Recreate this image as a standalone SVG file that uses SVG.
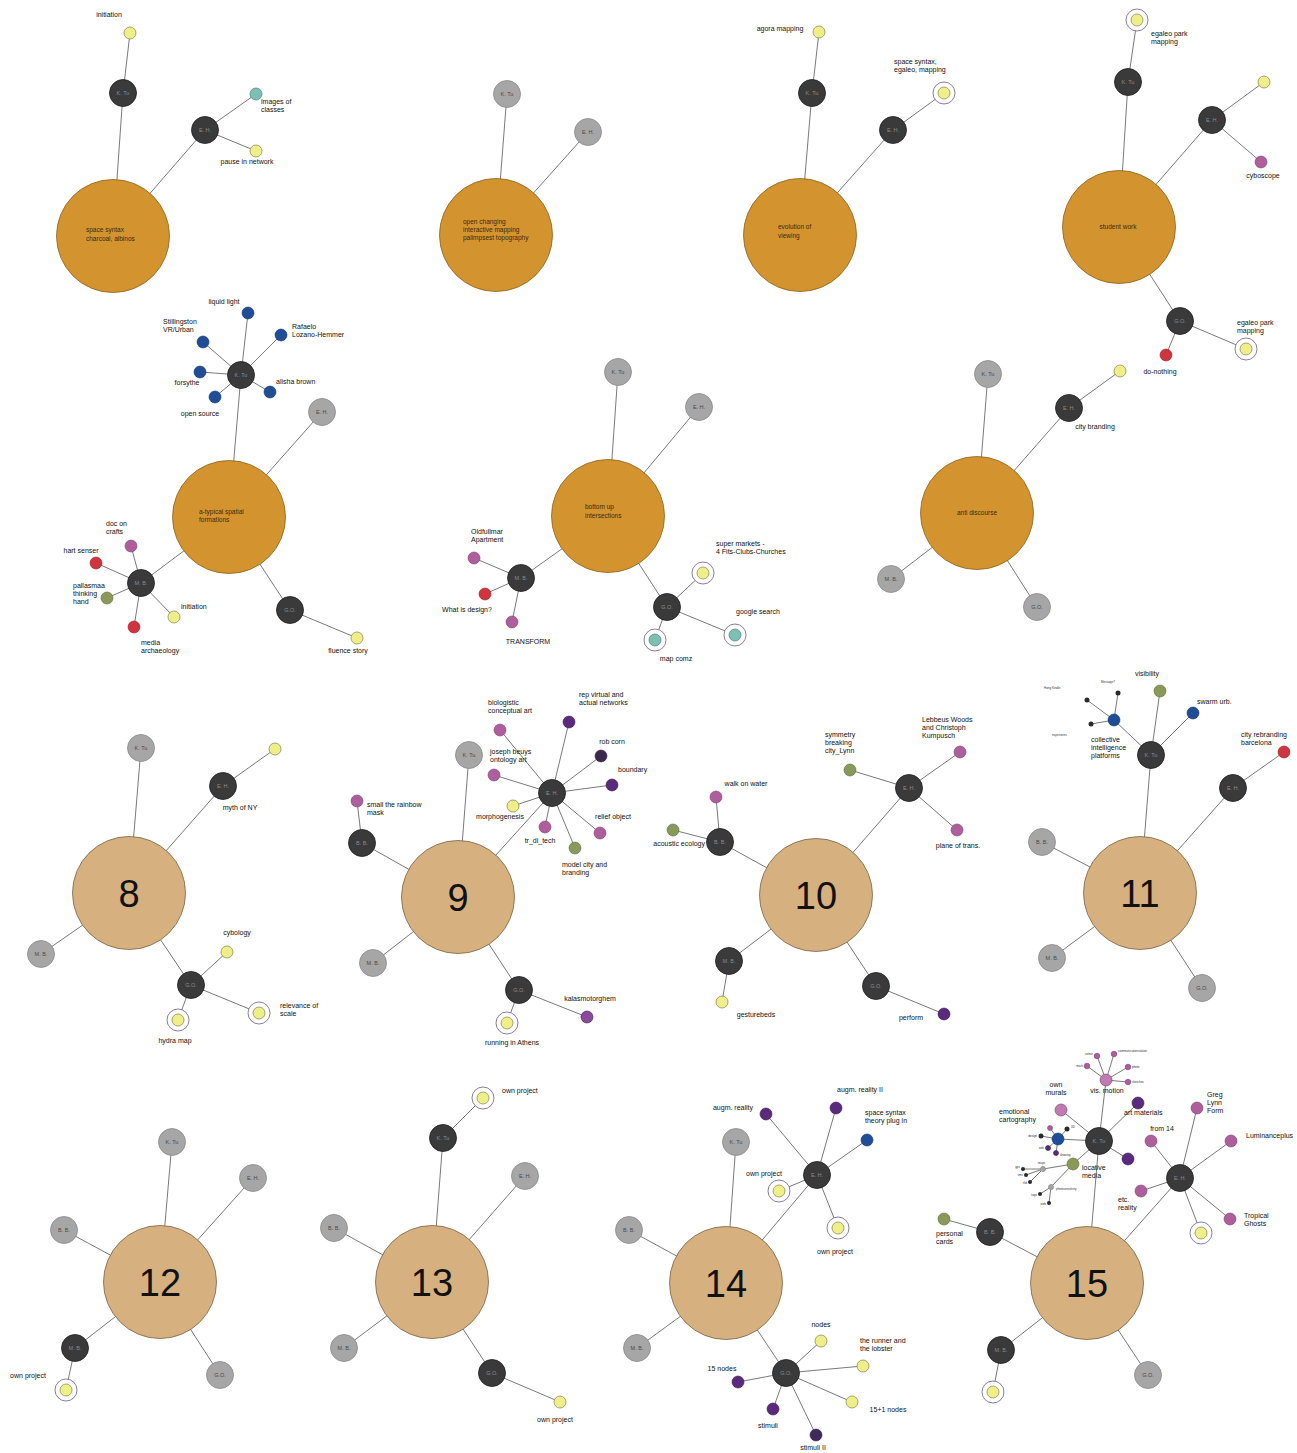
<svg xmlns="http://www.w3.org/2000/svg" width="1297" height="1453" viewBox="0 0 1297 1453">
<style>
text{font-family:"Liberation Sans",Arial,Helvetica,sans-serif}
#connectors line{stroke:#7a7a7a;stroke-width:1}
.big{fill:#D39430;stroke:#8C6420;stroke-width:.8}
.tan{fill:#D6B17F;stroke:#7a6548;stroke-width:.8}
.dk{fill:#3a3a3a;stroke:#1e1e1e;stroke-width:.8}
.gr{fill:#a6a6a6;stroke:#8a8a8a;stroke-width:.8}
.y{fill:#EFEF8A;stroke:#8f8f5a;stroke-width:.8}
.ring{fill:#fff;stroke:#6d6080;stroke-width:.8}
.tl{fill:#7BC0B2;stroke:#5a8a80;stroke-width:.8}
.pk{fill:#AE5E9C;stroke:#7a4070;stroke-width:.6}
.pu{fill:#5A2A7C;stroke:#3a1a50;stroke-width:.6}
.bl{fill:#1F4D98;stroke:#133366;stroke-width:.6}
.rd{fill:#D0343E;stroke:#902028;stroke-width:.6}
.ol{fill:#8A985A;stroke:#5e6a3a;stroke-width:.6}
.tn{fill:#2a2a2a}
.l{font-size:7px;fill:#111}
.lc{font-size:7px;fill:#111;text-anchor:middle}
.le{font-size:7px;fill:#111;text-anchor:end}
.nt{font-size:5.5px;fill:#8a8a8a;text-anchor:middle}
.gt{font-size:5.5px;fill:#4a4a4a;text-anchor:middle}
.bt{font-size:6.5px;fill:#3a2a10}
.btc{font-size:6.5px;fill:#3a2a10;text-anchor:middle}
.num{font-size:38px;fill:#111;text-anchor:middle}
.t{font-size:3px;fill:#333}
.te{font-size:3px;fill:#333;text-anchor:end}
</style>
<rect width="1297" height="1453" fill="#fff"/>
<g id="connectors">
<line x1="113" y1="236" x2="123" y2="93"/><line x1="123" y1="93" x2="130" y2="33"/><line x1="113" y1="236" x2="205" y2="130"/><line x1="205" y1="130" x2="256" y2="94"/><line x1="205" y1="130" x2="256" y2="151"/>
<line x1="496" y1="235" x2="507" y2="94"/><line x1="496" y1="235" x2="588" y2="132"/>
<line x1="800" y1="235" x2="812" y2="93"/><line x1="812" y1="93" x2="819" y2="32"/><line x1="800" y1="235" x2="893" y2="130"/><line x1="893" y1="130" x2="944" y2="93"/>
<line x1="1119" y1="227" x2="1128" y2="82"/><line x1="1128" y1="82" x2="1137" y2="20"/><line x1="1119" y1="227" x2="1212" y2="120"/><line x1="1212" y1="120" x2="1264" y2="82"/><line x1="1212" y1="120" x2="1261" y2="162"/><line x1="1119" y1="227" x2="1180" y2="321"/><line x1="1180" y1="321" x2="1166" y2="355"/><line x1="1180" y1="321" x2="1246" y2="349"/>
<line x1="229" y1="517" x2="241" y2="375"/><line x1="241" y1="375" x2="248" y2="313"/><line x1="241" y1="375" x2="203" y2="342"/><line x1="241" y1="375" x2="281" y2="335"/><line x1="241" y1="375" x2="200" y2="372"/><line x1="241" y1="375" x2="215" y2="397"/><line x1="241" y1="375" x2="270" y2="392"/><line x1="229" y1="517" x2="322" y2="412"/><line x1="229" y1="517" x2="141" y2="583"/><line x1="141" y1="583" x2="131" y2="546"/><line x1="141" y1="583" x2="96" y2="563"/><line x1="141" y1="583" x2="107" y2="598"/><line x1="141" y1="583" x2="174" y2="617"/><line x1="141" y1="583" x2="134" y2="627"/><line x1="229" y1="517" x2="290" y2="610"/><line x1="290" y1="610" x2="357" y2="638"/>
<line x1="608" y1="516" x2="618" y2="372"/><line x1="608" y1="516" x2="699" y2="407"/><line x1="608" y1="516" x2="521" y2="578"/><line x1="521" y1="578" x2="474" y2="558"/><line x1="521" y1="578" x2="485" y2="594"/><line x1="521" y1="578" x2="512" y2="622"/><line x1="608" y1="516" x2="667" y2="607"/><line x1="667" y1="607" x2="703" y2="573"/><line x1="667" y1="607" x2="735" y2="635"/><line x1="667" y1="607" x2="655" y2="640"/>
<line x1="977" y1="513" x2="988" y2="374"/><line x1="977" y1="513" x2="1069" y2="408"/><line x1="1069" y1="408" x2="1120" y2="371"/><line x1="977" y1="513" x2="891" y2="579"/><line x1="977" y1="513" x2="1037" y2="607"/>
<line x1="129" y1="893" x2="141" y2="748"/><line x1="129" y1="893" x2="223" y2="786"/><line x1="223" y1="786" x2="275" y2="749"/><line x1="129" y1="893" x2="41" y2="954"/><line x1="129" y1="893" x2="191" y2="985"/><line x1="191" y1="985" x2="227" y2="952"/><line x1="191" y1="985" x2="178" y2="1020"/><line x1="191" y1="985" x2="259" y2="1013"/>
<line x1="458" y1="897" x2="469" y2="755"/><line x1="458" y1="897" x2="552" y2="793"/><line x1="552" y1="793" x2="500" y2="730"/><line x1="552" y1="793" x2="569" y2="722"/><line x1="552" y1="793" x2="601" y2="756"/><line x1="552" y1="793" x2="612" y2="785"/><line x1="552" y1="793" x2="494" y2="775"/><line x1="552" y1="793" x2="513" y2="806"/><line x1="552" y1="793" x2="545" y2="827"/><line x1="552" y1="793" x2="575" y2="848"/><line x1="552" y1="793" x2="600" y2="833"/><line x1="458" y1="897" x2="362" y2="843"/><line x1="362" y1="843" x2="357" y2="801"/><line x1="458" y1="897" x2="373" y2="963"/><line x1="458" y1="897" x2="519" y2="990"/><line x1="519" y1="990" x2="587" y2="1017"/><line x1="519" y1="990" x2="507" y2="1023"/>
<line x1="816" y1="895" x2="720" y2="842"/><line x1="720" y1="842" x2="716" y2="797"/><line x1="720" y1="842" x2="673" y2="830"/><line x1="816" y1="895" x2="909" y2="788"/><line x1="909" y1="788" x2="850" y2="770"/><line x1="909" y1="788" x2="960" y2="752"/><line x1="909" y1="788" x2="957" y2="830"/><line x1="816" y1="895" x2="729" y2="961"/><line x1="729" y1="961" x2="722" y2="1002"/><line x1="816" y1="895" x2="876" y2="986"/><line x1="876" y1="986" x2="944" y2="1014"/>
<line x1="1140" y1="893" x2="1151" y2="755"/><line x1="1151" y1="755" x2="1160" y2="691"/><line x1="1151" y1="755" x2="1193" y2="713"/><line x1="1151" y1="755" x2="1114" y2="720"/><line x1="1114" y1="720" x2="1087" y2="700"/><line x1="1114" y1="720" x2="1118" y2="693"/><line x1="1114" y1="720" x2="1091" y2="724"/><line x1="1140" y1="893" x2="1233" y2="788"/><line x1="1233" y1="788" x2="1284" y2="752"/><line x1="1140" y1="893" x2="1042" y2="842"/><line x1="1140" y1="893" x2="1052" y2="958"/><line x1="1140" y1="893" x2="1202" y2="988"/>
<line x1="160" y1="1282" x2="172" y2="1142"/><line x1="160" y1="1282" x2="253" y2="1178"/><line x1="160" y1="1282" x2="64" y2="1230"/><line x1="160" y1="1282" x2="75" y2="1348"/><line x1="75" y1="1348" x2="66" y2="1390"/><line x1="160" y1="1282" x2="220" y2="1375"/>
<line x1="432" y1="1282" x2="443" y2="1138"/><line x1="443" y1="1138" x2="483" y2="1098"/><line x1="432" y1="1282" x2="525" y2="1176"/><line x1="432" y1="1282" x2="334" y2="1228"/><line x1="432" y1="1282" x2="344" y2="1348"/><line x1="432" y1="1282" x2="492" y2="1373"/><line x1="492" y1="1373" x2="560" y2="1402"/>
<line x1="726" y1="1283" x2="736" y2="1142"/><line x1="726" y1="1283" x2="817" y2="1175"/><line x1="817" y1="1175" x2="766" y2="1114"/><line x1="817" y1="1175" x2="836" y2="1108"/><line x1="817" y1="1175" x2="867" y2="1140"/><line x1="817" y1="1175" x2="779" y2="1191"/><line x1="817" y1="1175" x2="838" y2="1228"/><line x1="726" y1="1283" x2="629" y2="1230"/><line x1="726" y1="1283" x2="637" y2="1348"/><line x1="726" y1="1283" x2="786" y2="1373"/><line x1="786" y1="1373" x2="821" y2="1341"/><line x1="786" y1="1373" x2="863" y2="1366"/><line x1="786" y1="1373" x2="852" y2="1402"/><line x1="786" y1="1373" x2="738" y2="1382"/><line x1="786" y1="1373" x2="773" y2="1409"/><line x1="786" y1="1373" x2="816" y2="1435"/>
<line x1="1087" y1="1283" x2="1099" y2="1141"/><line x1="1099" y1="1141" x2="1106" y2="1080"/><line x1="1099" y1="1141" x2="1061" y2="1110"/><line x1="1099" y1="1141" x2="1138" y2="1103"/><line x1="1099" y1="1141" x2="1128" y2="1159"/><line x1="1099" y1="1141" x2="1058" y2="1139"/><line x1="1099" y1="1141" x2="1073" y2="1164"/>
<line x1="1106" y1="1080" x2="1087" y2="1066"/><line x1="1106" y1="1080" x2="1097" y2="1056"/><line x1="1106" y1="1080" x2="1114" y2="1054"/><line x1="1106" y1="1080" x2="1128" y2="1067"/><line x1="1106" y1="1080" x2="1128" y2="1082"/>
<line x1="1058" y1="1139" x2="1050" y2="1128"/><line x1="1058" y1="1139" x2="1041" y2="1136"/><line x1="1058" y1="1139" x2="1048" y2="1148"/><line x1="1058" y1="1139" x2="1056" y2="1153"/><line x1="1058" y1="1139" x2="1067" y2="1129"/>
<line x1="1073" y1="1164" x2="1043" y2="1169"/><line x1="1073" y1="1164" x2="1051" y2="1187"/><line x1="1043" y1="1169" x2="1023" y2="1169"/><line x1="1043" y1="1169" x2="1026" y2="1175"/><line x1="1043" y1="1169" x2="1030" y2="1182"/><line x1="1051" y1="1187" x2="1040" y2="1194"/><line x1="1051" y1="1187" x2="1049" y2="1203"/>
<line x1="1087" y1="1283" x2="990" y2="1232"/><line x1="990" y1="1232" x2="944" y2="1219"/><line x1="1087" y1="1283" x2="1001" y2="1350"/><line x1="1001" y1="1350" x2="993" y2="1392"/><line x1="1087" y1="1283" x2="1148" y2="1375"/><line x1="1087" y1="1283" x2="1180" y2="1178"/><line x1="1180" y1="1178" x2="1197" y2="1108"/><line x1="1180" y1="1178" x2="1231" y2="1141"/><line x1="1180" y1="1178" x2="1151" y2="1141"/><line x1="1180" y1="1178" x2="1141" y2="1191"/><line x1="1180" y1="1178" x2="1230" y2="1219"/><line x1="1180" y1="1178" x2="1201" y2="1233"/>
</g>

<!-- Panel 1 -->
<g id="p1-center"><circle class="big" cx="113" cy="236" r="56.5"/><text class="bt" x="86" y="232">space syntax</text><text class="bt" x="86" y="241">charcoal, albinos</text></g>
<g id="p1-ktu"><circle class="dk" cx="123" cy="93" r="13.5"/><text class="nt" x="123" y="95">K. Tu</text></g>
<g id="p1-eh"><circle class="dk" cx="205" cy="130" r="13.5"/><text class="nt" x="205" y="132">E. H.</text></g>
<g id="p1-initiation"><circle class="y" cx="130" cy="33" r="6"/><text class="lc" x="109" y="17">initiation</text></g>
<g id="p1-images"><circle class="tl" cx="256" cy="94" r="6"/><text class="l" x="261" y="104">images of</text><text class="l" x="261" y="112">classes</text></g>
<g id="p1-pause"><circle class="y" cx="256" cy="151" r="6"/><text class="lc" x="247" y="164">pause in network</text></g>

<!-- Panel 2 -->
<g id="p2-center"><circle class="big" cx="496" cy="235" r="56.5"/><text class="bt" x="463" y="224">open changing</text><text class="bt" x="463" y="232">interactive mapping</text><text class="bt" x="463" y="240">palimpsest topography</text></g>
<g id="p2-ktu"><circle class="gr" cx="507" cy="94" r="13.5"/><text class="gt" x="507" y="96">K. Tu</text></g>
<g id="p2-eh"><circle class="gr" cx="588" cy="132" r="13.5"/><text class="gt" x="588" y="134">E. H.</text></g>

<!-- Panel 3 -->
<g id="p3-center"><circle class="big" cx="800" cy="235" r="56.5"/><text class="bt" x="778" y="229">evolution of</text><text class="bt" x="778" y="238">viewing</text></g>
<g id="p3-ktu"><circle class="dk" cx="812" cy="93" r="13.5"/><text class="nt" x="812" y="95">K. Tu</text></g>
<g id="p3-eh"><circle class="dk" cx="893" cy="130" r="13.5"/><text class="nt" x="893" y="132">E. H.</text></g>
<g id="p3-agora"><circle class="y" cx="819" cy="32" r="6"/><text class="lc" x="780" y="31">agora mapping</text></g>
<g id="p3-spacesyntax"><circle class="ring" cx="944" cy="93" r="11"/><circle class="y" cx="944" cy="93" r="6"/><text class="l" x="894" y="64">space syntax,</text><text class="l" x="894" y="72">egaleo, mapping</text></g>

<!-- Panel 4 -->
<g id="p4-center"><circle class="big" cx="1119" cy="227" r="56.5"/><text class="btc" x="1118" y="229">student work</text></g>
<g id="p4-ktu"><circle class="dk" cx="1128" cy="82" r="13.5"/><text class="nt" x="1128" y="84">K. Tu</text></g>
<g id="p4-eh"><circle class="dk" cx="1212" cy="120" r="13.5"/><text class="nt" x="1212" y="122">E. H.</text></g>
<g id="p4-go"><circle class="dk" cx="1180" cy="321" r="13.5"/><text class="nt" x="1180" y="323">G.O.</text></g>
<g id="p4-egaleo1"><circle class="ring" cx="1137" cy="20" r="11"/><circle class="y" cx="1137" cy="20" r="6"/><text class="l" x="1151" y="36">egaleo park</text><text class="l" x="1151" y="44">mapping</text></g>
<g id="p4-y"><circle class="y" cx="1264" cy="82" r="6"/></g>
<g id="p4-cyboscope"><circle class="pk" cx="1261" cy="162" r="6"/><text class="lc" x="1263" y="178">cyboscope</text></g>
<g id="p4-donothing"><circle class="rd" cx="1166" cy="355" r="6"/><text class="lc" x="1160" y="374">do-nothing</text></g>
<g id="p4-egaleo2"><circle class="ring" cx="1246" cy="349" r="11"/><circle class="y" cx="1246" cy="349" r="6"/><text class="l" x="1237" y="325">egaleo park</text><text class="l" x="1237" y="333">mapping</text></g>

<!-- Panel 5 -->
<g id="p5-center"><circle class="big" cx="229" cy="517" r="56.5"/><text class="bt" x="199" y="514">a-typical spatial</text><text class="bt" x="199" y="522">formations</text></g>
<g id="p5-ktu"><circle class="dk" cx="241" cy="375" r="13.5"/><text class="nt" x="241" y="377">K. Tu</text></g>
<g id="p5-eh"><circle class="gr" cx="322" cy="412" r="13.5"/><text class="gt" x="322" y="414">E. H.</text></g>
<g id="p5-mb"><circle class="dk" cx="141" cy="583" r="13.5"/><text class="nt" x="141" y="585">M. B.</text></g>
<g id="p5-go"><circle class="dk" cx="290" cy="610" r="13.5"/><text class="nt" x="290" y="612">G.O.</text></g>
<g id="p5-liquid"><circle class="bl" cx="248" cy="313" r="6"/><text class="lc" x="224" y="304">liquid light</text></g>
<g id="p5-stillingston"><circle class="bl" cx="203" cy="342" r="6"/><text class="l" x="163" y="324">Stillingston</text><text class="l" x="163" y="332">VR/Urban</text></g>
<g id="p5-rafael"><circle class="bl" cx="281" cy="335" r="6"/><text class="l" x="292" y="329">Rafaelo</text><text class="l" x="292" y="337">Lozano-Hemmer</text></g>
<g id="p5-forsythe"><circle class="bl" cx="200" cy="372" r="6"/><text class="lc" x="187" y="385">forsythe</text></g>
<g id="p5-opensource"><circle class="bl" cx="215" cy="397" r="6"/><text class="lc" x="200" y="416">open source</text></g>
<g id="p5-alisha"><circle class="bl" cx="270" cy="392" r="6"/><text class="l" x="276" y="384">alisha brown</text></g>
<g id="p5-doc"><circle class="pk" cx="131" cy="546" r="6"/><text class="l" x="106" y="526">doc on</text><text class="l" x="106" y="534">crafts</text></g>
<g id="p5-hart"><circle class="rd" cx="96" cy="563" r="6"/><text class="lc" x="81" y="553">hart senser</text></g>
<g id="p5-pallasmaa"><circle class="ol" cx="107" cy="598" r="6"/><text class="l" x="73" y="588">pallasmaa</text><text class="l" x="73" y="596">thinking</text><text class="l" x="73" y="604">hand</text></g>
<g id="p5-initiation"><circle class="y" cx="174" cy="617" r="6"/><text class="l" x="181" y="609">initiation</text></g>
<g id="p5-media"><circle class="rd" cx="134" cy="627" r="6"/><text class="l" x="141" y="645">media</text><text class="l" x="141" y="653">archaeology</text></g>
<g id="p5-fluence"><circle class="y" cx="357" cy="638" r="6"/><text class="lc" x="348" y="653">fluence story</text></g>

<!-- Panel 6 -->
<g id="p6-center"><circle class="big" cx="608" cy="516" r="56.5"/><text class="bt" x="585" y="509">bottom up</text><text class="bt" x="585" y="518">intersections</text></g>
<g id="p6-ktu"><circle class="gr" cx="618" cy="372" r="13.5"/><text class="gt" x="618" y="374">K. Tu</text></g>
<g id="p6-eh"><circle class="gr" cx="699" cy="407" r="13.5"/><text class="gt" x="699" y="409">E. H.</text></g>
<g id="p6-mb"><circle class="dk" cx="521" cy="578" r="13.5"/><text class="nt" x="521" y="580">M. B.</text></g>
<g id="p6-go"><circle class="dk" cx="667" cy="607" r="13.5"/><text class="nt" x="667" y="609">G.O.</text></g>
<g id="p6-apartment"><circle class="pk" cx="474" cy="558" r="6"/><text class="l" x="471" y="534">Oldfullmar</text><text class="l" x="471" y="542">Apartment</text></g>
<g id="p6-design"><circle class="rd" cx="485" cy="594" r="6"/><text class="lc" x="467" y="612">What is design?</text></g>
<g id="p6-transform"><circle class="pk" cx="512" cy="622" r="6"/><text class="lc" x="528" y="644">TRANSFORM</text></g>
<g id="p6-supermarkets"><circle class="ring" cx="703" cy="573" r="11"/><circle class="y" cx="703" cy="573" r="6"/><text class="l" x="716" y="546">super markets -</text><text class="l" x="716" y="554">4 Fits-Clubs-Churches</text></g>
<g id="p6-google"><circle class="ring" cx="735" cy="635" r="11"/><circle class="tl" cx="735" cy="635" r="6"/><text class="lc" x="758" y="614">google search</text></g>
<g id="p6-mapcomz"><circle class="ring" cx="655" cy="640" r="11"/><circle class="tl" cx="655" cy="640" r="6"/><text class="lc" x="676" y="661">map comz</text></g>

<!-- Panel 7 -->
<g id="p7-center"><circle class="big" cx="977" cy="513" r="56.5"/><text class="btc" x="977" y="515">anti discourse</text></g>
<g id="p7-ktu"><circle class="gr" cx="988" cy="374" r="13.5"/><text class="gt" x="988" y="376">K. Tu</text></g>
<g id="p7-eh"><circle class="dk" cx="1069" cy="408" r="13.5"/><text class="nt" x="1069" y="410">E. H.</text><text class="lc" x="1095" y="429">city branding</text></g>
<g id="p7-y"><circle class="y" cx="1120" cy="371" r="6"/></g>
<g id="p7-mb"><circle class="gr" cx="891" cy="579" r="13.5"/><text class="gt" x="891" y="581">M. B.</text></g>
<g id="p7-go"><circle class="gr" cx="1037" cy="607" r="13.5"/><text class="gt" x="1037" y="609">G.O.</text></g>

<!-- Panel 8 -->
<g id="p8-center"><circle class="tan" cx="129" cy="893" r="56.5"/><text class="num" x="129" y="907">8</text></g>
<g id="p8-ktu"><circle class="gr" cx="141" cy="748" r="13.5"/><text class="gt" x="141" y="750">K. Tu</text></g>
<g id="p8-eh"><circle class="dk" cx="223" cy="786" r="13.5"/><text class="nt" x="223" y="788">E. H.</text><text class="lc" x="240" y="810">myth of NY</text></g>
<g id="p8-y"><circle class="y" cx="275" cy="749" r="6"/></g>
<g id="p8-mb"><circle class="gr" cx="41" cy="954" r="13.5"/><text class="gt" x="41" y="956">M. B.</text></g>
<g id="p8-go"><circle class="dk" cx="191" cy="985" r="13.5"/><text class="nt" x="191" y="987">G.O.</text></g>
<g id="p8-cybology"><circle class="y" cx="227" cy="952" r="6"/><text class="lc" x="237" y="935">cybology</text></g>
<g id="p8-hydra"><circle class="ring" cx="178" cy="1020" r="11"/><circle class="y" cx="178" cy="1020" r="6"/><text class="lc" x="175" y="1043">hydra map</text></g>
<g id="p8-relevance"><circle class="ring" cx="259" cy="1013" r="11"/><circle class="y" cx="259" cy="1013" r="6"/><text class="l" x="280" y="1008">relevance of</text><text class="l" x="280" y="1016">scale</text></g>

<!-- Panel 9 -->
<g id="p9-center"><circle class="tan" cx="458" cy="897" r="56.5"/><text class="num" x="458" y="911">9</text></g>
<g id="p9-ktu"><circle class="gr" cx="469" cy="755" r="13.5"/><text class="gt" x="469" y="757">K. Tu</text></g>
<g id="p9-eh"><circle class="dk" cx="552" cy="793" r="13.5"/><text class="nt" x="552" y="795">E. H.</text></g>
<g id="p9-bb"><circle class="dk" cx="362" cy="843" r="13.5"/><text class="nt" x="362" y="845">B. B.</text></g>
<g id="p9-mb"><circle class="gr" cx="373" cy="963" r="13.5"/><text class="gt" x="373" y="965">M. B.</text></g>
<g id="p9-go"><circle class="dk" cx="519" cy="990" r="13.5"/><text class="nt" x="519" y="992">G.O.</text></g>
<g id="p9-biologistic"><circle class="pk" cx="500" cy="730" r="6"/><text class="l" x="488" y="705">biologistic</text><text class="l" x="488" y="713">conceptual art</text></g>
<g id="p9-rep"><circle class="pu" cx="569" cy="722" r="6"/><text class="l" x="579" y="697">rep virtual and</text><text class="l" x="579" y="705">actual networks</text></g>
<g id="p9-rob"><circle class="pu" cx="601" cy="756" r="6" style="fill:#3a2a4a"/><text class="lc" x="612" y="744">rob corn</text></g>
<g id="p9-boundary"><circle class="pu" cx="612" cy="785" r="6"/><text class="l" x="618" y="772">boundary</text></g>
<g id="p9-beuys"><circle class="pk" cx="494" cy="775" r="6"/><text class="l" x="490" y="754">joseph beuys</text><text class="l" x="490" y="762">ontology art</text></g>
<g id="p9-morpho"><circle class="y" cx="513" cy="806" r="6"/><text class="lc" x="500" y="819">morphogenesis</text></g>
<g id="p9-trdi"><circle class="pk" cx="545" cy="827" r="6"/><text class="lc" x="540" y="843">tr_di_tech</text></g>
<g id="p9-model"><circle class="ol" cx="575" cy="848" r="6"/><text class="l" x="562" y="867">model city and</text><text class="l" x="562" y="875">branding</text></g>
<g id="p9-relief"><circle class="pk" cx="600" cy="833" r="6"/><text class="lc" x="613" y="819">relief object</text></g>
<g id="p9-rainbow"><circle class="pk" cx="357" cy="801" r="6"/><text class="l" x="367" y="807">small the rainbow</text><text class="l" x="367" y="815">mask</text></g>
<g id="p9-kalas"><circle class="pu" cx="587" cy="1017" r="6" style="fill:#8a4a9a"/><text class="lc" x="590" y="1001">kalasmotorghem</text></g>
<g id="p9-running"><circle class="ring" cx="507" cy="1023" r="11"/><circle class="y" cx="507" cy="1023" r="6"/><text class="lc" x="512" y="1045">running in Athens</text></g>

<!-- Panel 10 -->
<g id="p10-center"><circle class="tan" cx="816" cy="895" r="56.5"/><text class="num" x="816" y="909">10</text></g>
<g id="p10-bb"><circle class="dk" cx="720" cy="842" r="13.5"/><text class="nt" x="720" y="844">B. B.</text></g>
<g id="p10-eh"><circle class="dk" cx="909" cy="788" r="13.5"/><text class="nt" x="909" y="790">E. H.</text></g>
<g id="p10-mb"><circle class="dk" cx="729" cy="961" r="13.5"/><text class="nt" x="729" y="963">M. B.</text></g>
<g id="p10-go"><circle class="dk" cx="876" cy="986" r="13.5"/><text class="nt" x="876" y="988">G.O.</text></g>
<g id="p10-walk"><circle class="pk" cx="716" cy="797" r="6"/><text class="lc" x="746" y="786">walk on water</text></g>
<g id="p10-acoustic"><circle class="ol" cx="673" cy="830" r="6"/><text class="le" x="705" y="846">acoustic ecology</text></g>
<g id="p10-symmetry"><circle class="ol" cx="850" cy="770" r="6"/><text class="l" x="825" y="737">symmetry</text><text class="l" x="825" y="745">breaking</text><text class="l" x="825" y="753">city_Lynn</text></g>
<g id="p10-lebbeus"><circle class="pk" cx="960" cy="752" r="6"/><text class="l" x="922" y="722">Lebbeus Woods</text><text class="l" x="922" y="730">and Christoph</text><text class="l" x="922" y="738">Kumpusch</text></g>
<g id="p10-plane"><circle class="pk" cx="957" cy="830" r="6"/><text class="lc" x="958" y="848">plane of trans.</text></g>
<g id="p10-gesture"><circle class="y" cx="722" cy="1002" r="6"/><text class="lc" x="756" y="1017">gesturebeds</text></g>
<g id="p10-perform"><circle class="pu" cx="944" cy="1014" r="6"/><text class="lc" x="911" y="1020">perform</text></g>

<!-- Panel 11 -->
<g id="p11-center"><circle class="tan" cx="1140" cy="893" r="56.5"/><text class="num" x="1140" y="907">11</text></g>
<g id="p11-ktu"><circle class="dk" cx="1151" cy="755" r="13.5"/><text class="nt" x="1151" y="757">K. Tu</text></g>
<g id="p11-eh"><circle class="dk" cx="1233" cy="788" r="13.5"/><text class="nt" x="1233" y="790">E. H.</text></g>
<g id="p11-bb"><circle class="gr" cx="1042" cy="842" r="13.5"/><text class="gt" x="1042" y="844">B. B.</text></g>
<g id="p11-mb"><circle class="gr" cx="1052" cy="958" r="13.5"/><text class="gt" x="1052" y="960">M. B.</text></g>
<g id="p11-go"><circle class="gr" cx="1202" cy="988" r="13.5"/><text class="gt" x="1202" y="990">G.O.</text></g>
<g id="p11-visibility"><circle class="ol" cx="1160" cy="691" r="6"/><text class="lc" x="1147" y="676">visibility</text></g>
<g id="p11-swarm"><circle class="bl" cx="1193" cy="713" r="6"/><text class="l" x="1197" y="704">swarm urb.</text></g>
<g id="p11-collective"><circle class="bl" cx="1114" cy="720" r="6"/><text class="l" x="1091" y="742">collective</text><text class="l" x="1091" y="750">intelligence</text><text class="l" x="1091" y="758">platforms</text></g>
<g id="p11-tiny1"><circle class="tn" cx="1087" cy="700" r="2.5"/><text class="t" x="1044" y="689">Hong Kindle</text></g>
<g id="p11-tiny2"><circle class="tn" cx="1118" cy="693" r="2.5"/><text class="t" x="1101" y="683">Message?</text></g>
<g id="p11-tiny3"><circle class="tn" cx="1091" cy="724" r="2.5"/><text class="t" x="1052" y="736">trajectories</text></g>
<g id="p11-barcelona"><circle class="rd" cx="1284" cy="752" r="6"/><text class="l" x="1241" y="737">city rebranding</text><text class="l" x="1241" y="745">barcelona</text></g>

<!-- Panel 12 -->
<g id="p12-center"><circle class="tan" cx="160" cy="1282" r="56.5"/><text class="num" x="160" y="1296">12</text></g>
<g id="p12-ktu"><circle class="gr" cx="172" cy="1142" r="13.5"/><text class="gt" x="172" y="1144">K. Tu</text></g>
<g id="p12-eh"><circle class="gr" cx="253" cy="1178" r="13.5"/><text class="gt" x="253" y="1180">E. H.</text></g>
<g id="p12-bb"><circle class="gr" cx="64" cy="1230" r="13.5"/><text class="gt" x="64" y="1232">B. B.</text></g>
<g id="p12-mb"><circle class="dk" cx="75" cy="1348" r="13.5"/><text class="nt" x="75" y="1350">M. B.</text></g>
<g id="p12-go"><circle class="gr" cx="220" cy="1375" r="13.5"/><text class="gt" x="220" y="1377">G.O.</text></g>
<g id="p12-own"><circle class="ring" cx="66" cy="1390" r="11"/><circle class="y" cx="66" cy="1390" r="6"/><text class="lc" x="28" y="1378">own project</text></g>

<!-- Panel 13 -->
<g id="p13-center"><circle class="tan" cx="432" cy="1282" r="56.5"/><text class="num" x="432" y="1296">13</text></g>
<g id="p13-ktu"><circle class="dk" cx="443" cy="1138" r="13.5"/><text class="nt" x="443" y="1140">K. Tu</text></g>
<g id="p13-eh"><circle class="gr" cx="525" cy="1176" r="13.5"/><text class="gt" x="525" y="1178">E. H.</text></g>
<g id="p13-bb"><circle class="gr" cx="334" cy="1228" r="13.5"/><text class="gt" x="334" y="1230">B. B.</text></g>
<g id="p13-mb"><circle class="gr" cx="344" cy="1348" r="13.5"/><text class="gt" x="344" y="1350">M. B.</text></g>
<g id="p13-go"><circle class="dk" cx="492" cy="1373" r="13.5"/><text class="nt" x="492" y="1375">G.O.</text></g>
<g id="p13-own1"><circle class="ring" cx="483" cy="1098" r="11"/><circle class="y" cx="483" cy="1098" r="6"/><text class="l" x="502" y="1093">own project</text></g>
<g id="p13-own2"><circle class="y" cx="560" cy="1402" r="6"/><text class="lc" x="555" y="1422">own project</text></g>

<!-- Panel 14 -->
<g id="p14-center"><circle class="tan" cx="726" cy="1283" r="56.5"/><text class="num" x="726" y="1297">14</text></g>
<g id="p14-ktu"><circle class="gr" cx="736" cy="1142" r="13.5"/><text class="gt" x="736" y="1144">K. Tu</text></g>
<g id="p14-eh"><circle class="dk" cx="817" cy="1175" r="13.5"/><text class="nt" x="817" y="1177">E. H.</text></g>
<g id="p14-bb"><circle class="gr" cx="629" cy="1230" r="13.5"/><text class="gt" x="629" y="1232">B. B.</text></g>
<g id="p14-mb"><circle class="gr" cx="637" cy="1348" r="13.5"/><text class="gt" x="637" y="1350">M. B.</text></g>
<g id="p14-go"><circle class="dk" cx="786" cy="1373" r="13.5"/><text class="nt" x="786" y="1375">G.O.</text></g>
<g id="p14-augm1"><circle class="pu" cx="766" cy="1114" r="6"/><text class="lc" x="733" y="1110">augm. reality</text></g>
<g id="p14-augm2"><circle class="pu" cx="836" cy="1108" r="6"/><text class="lc" x="860" y="1092">augm. reality II</text></g>
<g id="p14-plugin"><circle class="bl" cx="867" cy="1140" r="6"/><text class="l" x="865" y="1115">space syntax</text><text class="l" x="865" y="1123">theory plug in</text></g>
<g id="p14-own1"><circle class="ring" cx="779" cy="1191" r="11"/><circle class="y" cx="779" cy="1191" r="6"/><text class="lc" x="764" y="1176">own project</text></g>
<g id="p14-own2"><circle class="ring" cx="838" cy="1228" r="11"/><circle class="y" cx="838" cy="1228" r="6"/><text class="lc" x="835" y="1254">own project</text></g>
<g id="p14-nodes"><circle class="y" cx="821" cy="1341" r="6"/><text class="lc" x="821" y="1327">nodes</text></g>
<g id="p14-runner"><circle class="y" cx="863" cy="1366" r="6"/><text class="l" x="860" y="1343">the runner and</text><text class="l" x="860" y="1351">the lobster</text></g>
<g id="p14-151"><circle class="y" cx="852" cy="1402" r="6"/><text class="lc" x="888" y="1412">15+1 nodes</text></g>
<g id="p14-15"><circle class="pu" cx="738" cy="1382" r="6"/><text class="lc" x="722" y="1371">15 nodes</text></g>
<g id="p14-stimuli"><circle class="pu" cx="773" cy="1409" r="6"/><text class="lc" x="768" y="1428">stimuli</text></g>
<g id="p14-stimuli2"><circle class="pu" cx="816" cy="1435" r="6" style="fill:#3e2a5a"/><text class="lc" x="813" y="1450">stimuli II</text></g>

<!-- Panel 15 -->
<g id="p15-center"><circle class="tan" cx="1087" cy="1283" r="56.5"/><text class="num" x="1087" y="1297">15</text></g>
<g id="p15-ktu"><circle class="dk" cx="1099" cy="1141" r="13.5"/><text class="nt" x="1099" y="1143">K. Tu</text></g>
<g id="p15-eh"><circle class="dk" cx="1180" cy="1178" r="13.5"/><text class="nt" x="1180" y="1180">E. H.</text></g>
<g id="p15-bb"><circle class="dk" cx="990" cy="1232" r="13.5"/><text class="nt" x="990" y="1234">B. B.</text></g>
<g id="p15-mb"><circle class="dk" cx="1001" cy="1350" r="13.5"/><text class="nt" x="1001" y="1352">M. B.</text></g>
<g id="p15-go"><circle class="gr" cx="1148" cy="1375" r="13.5"/><text class="gt" x="1148" y="1377">G.O.</text></g>
<g id="p15-personal"><circle class="ol" cx="944" cy="1219" r="6"/><text class="l" x="936" y="1236">personal</text><text class="l" x="936" y="1244">cards</text></g>
<g id="p15-own"><circle class="ring" cx="993" cy="1392" r="11"/><circle class="y" cx="993" cy="1392" r="6"/></g>
<g id="p15-greg"><circle class="pk" cx="1197" cy="1108" r="6"/><text class="l" x="1207" y="1097">Greg</text><text class="l" x="1207" y="1105">Lynn</text><text class="l" x="1207" y="1113">Form</text></g>
<g id="p15-lumin"><circle class="pk" cx="1231" cy="1141" r="6"/><text class="l" x="1246" y="1138">Luminanceplus</text></g>
<g id="p15-from14"><circle class="pk" cx="1151" cy="1141" r="6"/><text class="lc" x="1162" y="1131">from 14</text></g>
<g id="p15-etc"><circle class="pk" cx="1141" cy="1191" r="6"/><text class="l" x="1118" y="1202">etc.</text><text class="l" x="1118" y="1210">reality</text></g>
<g id="p15-tropical"><circle class="pk" cx="1230" cy="1219" r="6"/><text class="l" x="1244" y="1218">Tropical</text><text class="l" x="1244" y="1226">Ghosts</text></g>
<g id="p15-y"><circle class="ring" cx="1201" cy="1233" r="11"/><circle class="y" cx="1201" cy="1233" r="6"/></g>
<g id="p15-vismotion"><circle class="pk" cx="1106" cy="1080" r="6" style="fill:#c07ab0"/><text class="lc" x="1107" y="1093">vis. motion</text></g>
<g id="p15-vm-subs"><circle class="pk" cx="1087" cy="1066" r="2.8"/><circle class="pk" cx="1097" cy="1056" r="2.8"/><circle class="pk" cx="1114" cy="1054" r="2.8"/><circle class="pk" cx="1128" cy="1067" r="2.8"/><circle class="pk" cx="1128" cy="1082" r="2.8"/><text class="te" x="1083" y="1067">mark</text><text class="te" x="1093" y="1055">sense</text><text class="t" x="1118" y="1052">communicationstation</text><text class="t" x="1132" y="1068">photo</text><text class="t" x="1132" y="1083">sketches</text></g>
<g id="p15-murals"><circle class="pk" cx="1061" cy="1110" r="6" style="fill:#c07ab0"/><text class="lc" x="1056" y="1087">own</text><text class="lc" x="1056" y="1095">murals</text></g>
<g id="p15-artmaterials"><circle class="pu" cx="1138" cy="1103" r="6"/><text class="l" x="1124" y="1115">art materials</text></g>
<g id="p15-pu2"><circle class="pu" cx="1128" cy="1159" r="6"/></g>
<g id="p15-emotional"><circle class="bl" cx="1058" cy="1139" r="6"/><text class="l" x="999" y="1114">emotional</text><text class="l" x="999" y="1122">cartography</text></g>
<g id="p15-em-subs"><circle class="pk" cx="1050" cy="1128" r="2.5"/><circle class="tn" cx="1041" cy="1136" r="2.5"/><circle class="pu" cx="1048" cy="1148" r="2.5"/><circle class="pu" cx="1056" cy="1153" r="2.5"/><circle class="tn" cx="1067" cy="1129" r="2.5"/><text class="te" x="1037" y="1137">design</text><text class="te" x="1044" y="1149">wiki</text><text class="t" x="1060" y="1156">drawing</text><text class="t" x="1071" y="1128">3D</text></g>
<g id="p15-locative"><circle class="ol" cx="1073" cy="1164" r="6"/><text class="l" x="1082" y="1170">locative</text><text class="l" x="1082" y="1178">media</text></g>
<g id="p15-loc-subs"><circle class="gr" cx="1043" cy="1169" r="2.5"/><circle class="gr" cx="1051" cy="1187" r="2.5"/><circle class="tn" cx="1023" cy="1169" r="2"/><circle class="tn" cx="1026" cy="1175" r="2"/><circle class="tn" cx="1030" cy="1182" r="2"/><circle class="tn" cx="1040" cy="1194" r="2"/><circle class="tn" cx="1049" cy="1203" r="2"/><text class="t" x="1038" y="1164">maps</text><text class="te" x="1020" y="1168">gps</text><text class="te" x="1023" y="1176">sms</text><text class="te" x="1027" y="1184">rfid</text><text class="t" x="1056" y="1190">photosensitivity</text><text class="te" x="1037" y="1196">tags</text><text class="te" x="1046" y="1205">web</text></g>
</svg>
